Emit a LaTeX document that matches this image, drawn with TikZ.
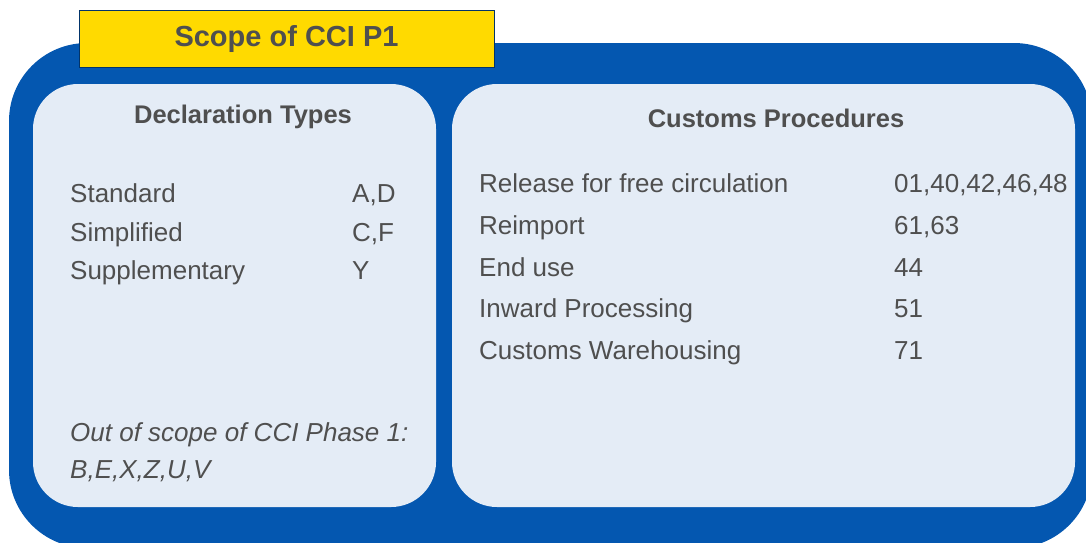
\documentclass[tikz,border=0pt]{standalone}
\usepackage{fontspec}
\setmainfont{Liberation Sans}
\usetikzlibrary{positioning}
\definecolor{ccblue}{HTML}{0457B0}
\definecolor{ccpanel}{HTML}{E4ECF6}
\definecolor{ccyellow}{HTML}{FFDA00}
\definecolor{cctext}{HTML}{4F4F4F}

\begin{document}
\begin{tikzpicture}[x=1pt, y=-1pt]
		\useasboundingbox (0,0) rectangle (1086,542);
		% frame and panels
		\fill[ccblue, rounded corners=78pt] (9,43) rectangle (1092,548);
		\fill[ccpanel, rounded corners=45pt] (33,84) rectangle (436,507);
		\fill[ccpanel, rounded corners=45pt] (452,84) rectangle (1075,507);
		\node[fill=ccyellow, draw=ccblue!60!black, line width=0.6pt, minimum width=415pt, minimum height=57pt, inner sep=0pt] (title) at (286.5,38.5) {};
		\node[text=cctext, font=\fontsize{29}{34}\selectfont\bfseries] (titletext) at (title.center) {Scope of CCI P1};
		
		\begin{scope}[every node/.style={text=cctext, inner sep=0pt, font=\fontsize{25.5}{30}\selectfont\bfseries}]
			\node[anchor=base] (decl) at (243,123) {Declaration Types};
			\node[anchor=base] (proc) at (776,127) {Customs Procedures};
		\end{scope}
		
		\begin{scope}[every node/.style={text=cctext, inner sep=0pt, anchor=base west, font=\fontsize{26}{31}\selectfont}]
			\node (std) at (70,202) {Standard};
			\node (simp) at (70,241) {Simplified};
			\node (supp) at (70,279) {Supplementary};
			\node (stdv) at (352,202) {A,D};
			\node (simpv) at (352,241) {C,F};
			\node (suppv) at (352,279) {Y};
			\node[font=\fontsize{26}{31}\selectfont\itshape] (out) at (70,441) {Out of scope of CCI Phase 1:};
			\node[font=\fontsize{26}{31}\selectfont\itshape] (outv) at (70,478) {B,E,X,Z,U,V};
			
			\node (rel) at (479,192) {Release for free circulation};
			\node (reimp) at (479,234) {Reimport};
			\node (end) at (479,276) {End use};
			\node (inw) at (479,317) {Inward Processing};
			\node (ware) at (479,359) {Customs Warehousing};
			\node (relv) at (894,192) {01,40,42,46,48};
			\node (reimpv) at (894,234) {61,63};
			\node (endv) at (894,276) {44};
			\node (inwv) at (894,317) {51};
			\node (warev) at (894,359) {71};
		\end{scope}
	\end{tikzpicture}
\end{document}
